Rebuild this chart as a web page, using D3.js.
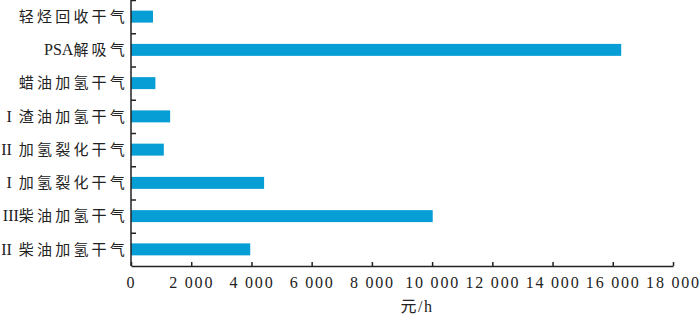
<!DOCTYPE html>
<html>
<head>
<meta charset="utf-8">
<script src="https://cdn.jsdelivr.net/npm/d3@7"></script>
<style>
  body { margin: 0; background: #fff; }
  svg { display: block; }
  .cat text { font-family: "Liberation Serif", "Noto Sans CJK SC", serif; font-size: 15px; fill: #222; }
  .cat .lat { font-size: 16px; letter-spacing: 0; }
  .cat .cjk { letter-spacing: 3.2px; }
  .xaxis text { font-family: "Liberation Serif", serif; font-size: 16px; letter-spacing: 1.8px; fill: #222; }
  .unit { font-family: "Liberation Serif", "Noto Sans CJK SC", serif; font-size: 16px; letter-spacing: 1.5px; fill: #222; }
</style>
</head>
<body>
<svg id="chart" width="700" height="324"></svg>
<script>
// categories, top to bottom
const categories = [
  "轻烃回收干气",
  "PSA解吸气",
  "蜡油加氢干气",
  "I 渣油加氢干气",
  "II 加氢裂化干气",
  "I 加氢裂化干气",
  "III柴油加氢干气",
  "II 柴油加氢干气"
];
// 元/h
const values = [730, 16280, 810, 1300, 1090, 4420, 10020, 3960];
const xTicks = [0, 2000, 4000, 6000, 8000, 10000, 12000, 14000, 16000, 18000];
const unitLabel = "元/h";

const svg = d3.select("#chart");
const margin = { left: 131, right: 27, top: 0, bottom: 58 };
const width = 700, height = 324;

const x = d3.scaleLinear().domain([0, 18000]).range([margin.left, width - margin.right]);
const y = d3.scaleBand().domain(categories).range([margin.top, height - margin.bottom]).paddingInner(0.64).paddingOuter(0.32);

const fmt = d3.formatLocale({ decimal: ".", thousands: " ", grouping: [3], currency: ["", ""] }).format(",");

// bars
svg.append("g").selectAll("rect")
  .data(categories)
  .join("rect")
  .attr("x", x(0))
  .attr("y", d => y(d))
  .attr("width", (d, i) => x(values[i]) - x(0))
  .attr("height", y.bandwidth())
  .attr("fill", "#079dd5");

// y axis: line + inward ticks between categories
const step = y.step();
const yg = svg.append("g");
yg.append("line")
  .attr("x1", x(0)).attr("x2", x(0))
  .attr("y1", margin.top).attr("y2", height - margin.bottom)
  .attr("stroke", "#222").attr("stroke-width", 1.5);
yg.selectAll("line.tk")
  .data(d3.range(0, categories.length))
  .join("line")
  .attr("class", "tk")
  .attr("x1", x(0)).attr("x2", x(0) + 5)
  .attr("y1", i => margin.top + i * step + 0.5)
  .attr("y2", i => margin.top + i * step + 0.5)
  .attr("stroke", "#222").attr("stroke-width", 1.5);

// category labels: latin prefix without spacing, CJK part spaced
const labels = svg.append("g").attr("class", "cat")
  .selectAll("text")
  .data(categories)
  .join("text")
  .attr("x", x(0) - 3)
  .attr("y", d => y(d) + y.bandwidth() / 2)
  .attr("dy", "0.35em")
  .attr("text-anchor", "end");
labels.each(function (d) {
  const m = d.match(/^([A-Za-z]*)( ?)(.*)$/);
  const t = d3.select(this);
  if (m[1]) t.append("tspan").attr("class", "lat").text(m[1]);
  t.append("tspan").attr("class", "cjk").attr("dx", m[2] ? 7 : 0).text(m[3]);
});

// x axis
const xg = svg.append("g")
  .attr("class", "xaxis")
  .attr("transform", `translate(0,${height - margin.bottom})`)
  .call(d3.axisBottom(x).tickValues(xTicks).tickFormat(fmt).tickSizeInner(-4).tickSizeOuter(0).tickPadding(11));
xg.attr("font-family", null).attr("font-size", null);
xg.select(".domain").attr("stroke", "#222").attr("stroke-width", 1.5);
xg.selectAll(".tick line").attr("stroke", "#222").attr("stroke-width", 1.5);

svg.append("text")
  .attr("class", "unit")
  .attr("x", 417)
  .attr("y", 312)
  .attr("text-anchor", "middle")
  .text(unitLabel);
</script>
</body>
</html>
